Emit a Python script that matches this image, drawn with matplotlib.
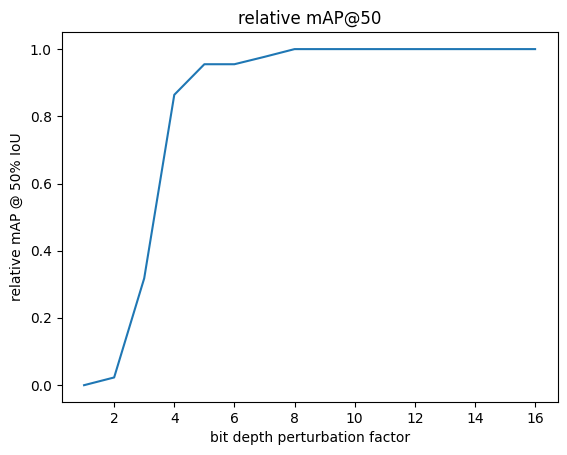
import matplotlib
matplotlib.use("Agg")
import matplotlib.pyplot as plt

factors = list(range(1, 17))
rel_map = [0.0, 0.023, 0.318, 0.864, 0.955, 0.955, 0.977, 1.0, 1.0, 1.0, 1.0, 1.0, 1.0, 1.0, 1.0, 1.0]

fig = plt.figure(figsize=(5.67, 4.55), dpi=100)
ax = fig.add_axes([0.1085, 0.1165, 0.875, 0.8125])
ax.plot(factors, rel_map)
ax.set_title("relative mAP@50")
ax.set_xlabel("bit depth perturbation factor")
ax.set_ylabel("relative mAP @ 50% IoU")
fig.savefig("out.png", dpi=100)
